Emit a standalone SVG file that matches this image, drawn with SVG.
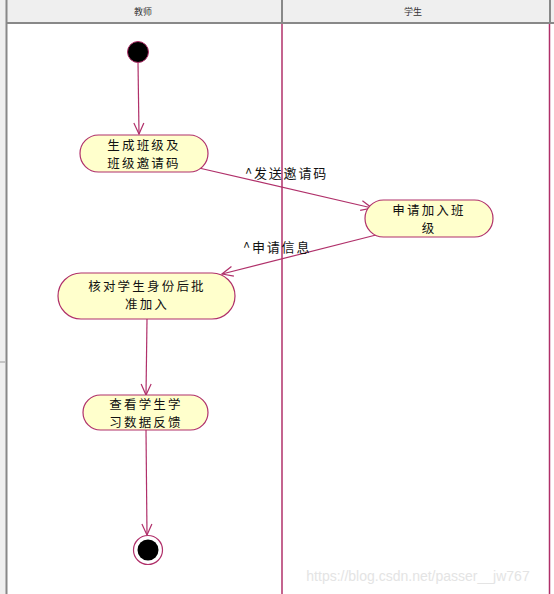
<svg xmlns="http://www.w3.org/2000/svg" width="554" height="594" viewBox="0 0 554 594">
<defs>
<style>
.hdr{fill:#efefef}
.hdrtxt{font-family:"Noto Sans CJK SC","Liberation Sans",sans-serif;font-size:9px;fill:#333;text-anchor:middle}
.lane{stroke:#b0306a;stroke-width:1.5;fill:none}
.act{fill:#ffffcc;stroke:#b0306a;stroke-width:1.2}
.atxt{font-family:"Noto Sans CJK SC","Liberation Sans",sans-serif;font-size:12.5px;fill:#111;text-anchor:middle;letter-spacing:2.2px}
.lbl{font-family:"Noto Sans CJK SC","Liberation Sans",sans-serif;font-size:13px;fill:#111;letter-spacing:1.8px}
.conn{stroke:#b0306a;stroke-width:1.2;fill:none}
</style>
<marker id="arr" markerWidth="14" markerHeight="14" refX="12" refY="6" orient="auto" markerUnits="userSpaceOnUse">
<path d="M1,1 L12,6 L1,11" fill="none" stroke="#b0306a" stroke-width="1.2"/>
</marker>
</defs>
<rect width="554" height="594" fill="#ffffff"/>
<g id="frame">
<rect x="0" y="0" width="6" height="594" fill="#efefef"/>
<line x1="0" y1="362" x2="5" y2="362" stroke="#999" stroke-width="1"/>
<rect class="hdr" x="5" y="0" width="549" height="22"/>
<line x1="6.5" y1="0" x2="6.5" y2="594" stroke="#888" stroke-width="2"/>
<line x1="282" y1="0" x2="282" y2="22" stroke="#888" stroke-width="2"/>
<line x1="550" y1="0" x2="550" y2="22" stroke="#888" stroke-width="2"/>
<line x1="6" y1="23" x2="554" y2="23" stroke="#888" stroke-width="2"/>
<text class="hdrtxt" x="143" y="15">教师</text>
<text class="hdrtxt" x="413" y="15">学生</text>
<line class="lane" x1="282" y1="24" x2="282" y2="594"/>
<line class="lane" x1="549.5" y1="24" x2="549.5" y2="594"/>
</g>
<g id="connectors">
<line class="conn" x1="138" y1="62" x2="139" y2="134" marker-end="url(#arr)"/>
<line class="conn" x1="199" y1="168" x2="372" y2="208" marker-end="url(#arr)"/>
<text class="lbl" x="245" y="178">^发送邀请码</text>
<line class="conn" x1="376" y1="235" x2="222" y2="274" marker-end="url(#arr)"/>
<text class="lbl" x="243" y="252">^申请信息</text>
<line class="conn" x1="147" y1="319" x2="146" y2="395" marker-end="url(#arr)"/>
<line class="conn" x1="146" y1="430" x2="147" y2="535" marker-end="url(#arr)"/>
</g>
<g id="start">
<circle cx="138" cy="52" r="10.5" fill="#000" stroke="#b0306a" stroke-width="1"/>
</g>
<g id="act1">
<rect class="act" x="80" y="135" width="128" height="37" rx="18.5"/>
<text class="atxt" x="144" y="150">生成班级及</text>
<text class="atxt" x="144" y="168">班级邀请码</text>
</g>
<g id="act2">
<rect class="act" x="365" y="200" width="128" height="37" rx="18.5"/>
<text class="atxt" x="429" y="215">申请加入班</text>
<text class="atxt" x="429" y="233">级</text>
</g>
<g id="act3">
<rect class="act" x="58" y="273" width="177" height="46" rx="23"/>
<text class="atxt" x="147" y="291">核对学生身份后批</text>
<text class="atxt" x="147" y="309">准加入</text>
</g>
<g id="act4">
<rect class="act" x="83" y="395" width="125" height="35" rx="17.5"/>
<text class="atxt" x="146" y="409">查看学生学</text>
<text class="atxt" x="146" y="427">习数据反馈</text>
</g>
<g id="end">
<circle cx="148" cy="550" r="14.5" fill="#fff" stroke="#b0306a" stroke-width="1.2"/>
<circle cx="148" cy="550" r="10.5" fill="#000"/>
</g>
<text x="418" y="581" font-family="Liberation Sans,sans-serif" font-size="14" fill="#e4e4e4" text-anchor="middle">https://blog.csdn.net/passer__jw767</text>
</svg>
